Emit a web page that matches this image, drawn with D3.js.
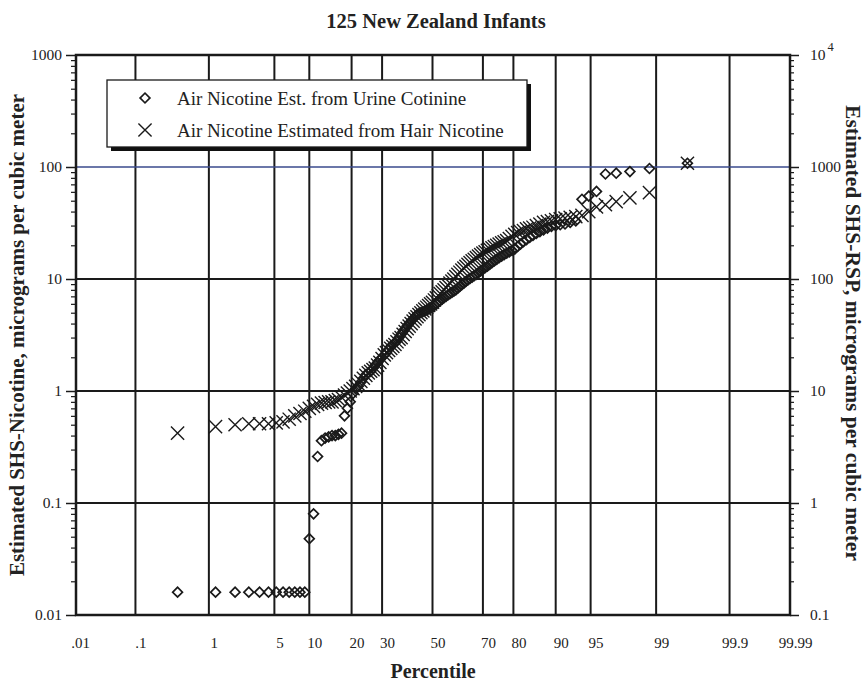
<!DOCTYPE html>
<html><head><meta charset="utf-8">
<script src="https://cdn.jsdelivr.net/npm/d3@7"></script>
<style>
html,body{margin:0;padding:0;background:#fff;}
svg{display:block;font-family:"Liberation Serif","Times New Roman",serif;}
</style></head>
<body><svg id="chart" width="868" height="684"></svg>
<script>
// ---------- data ----------
const title = "125 New Zealand Infants";
const xTitle = "Percentile";
const yLeftTitle = "Estimated SHS-Nicotine, micrograms per cubic meter";
const yRightTitle = "Estimated SHS-RSP, micrograms per cubic meter";
const legendLabels = ["Air Nicotine Est. from Urine Cotinine", "Air Nicotine Estimated from Hair Nicotine"];

const percentTicks = [0.01, 0.1, 1, 5, 10, 20, 30, 50, 70, 80, 90, 95, 99, 99.9, 99.99];
const percentLabels = [".01", ".1", "1", "5", "10", "20", "30", "50", "70", "80", "90", "95", "99", "99.9", "99.99"];
const leftTicks = [0.01, 0.1, 1, 10, 100, 1000];
const leftLabels = ["0.01", "0.1", "1", "10", "100", "1000"];
const rightTicks = [0.1, 1, 10, 100, 1000, 10000];
const rightLabels = ["0.1", "1", "10", "100", "1000", "10"];

// sorted values, one per infant (rank order)
const urineCotinine = [
  0.016,0.016,0.016,0.016,0.016,0.016,0.016,0.016,0.016,0.016,0.016,0.016,
  0.048,0.080,0.26,0.36,0.38,0.39,0.40,0.40,0.41,0.42,0.60,0.70,0.80,
  0.95,1.05,1.1,1.2,1.3,1.4,1.45,1.5,1.6,1.7,1.8,1.9,2.0,2.1,2.2,
  2.35,2.5,2.6,2.7,2.8,3.0,3.2,3.4,3.6,3.8,4.0,4.2,4.4,4.6,4.8,
  4.9,5.0,5.1,5.2,5.3,5.4,5.5,5.6,5.8,6.0,6.2,6.4,6.6,6.8,7.0,
  7.2,7.4,7.6,7.8,8.0,8.3,8.6,8.9,9.2,9.5,9.8,10.1,10.4,10.7,11.0,
  11.4,11.8,12.2,12.6,13.0,13.5,14.0,14.5,15.0,15.5,16.0,16.5,17.0,17.5,18.0,
  18.5,19.5,20.5,21.5,22.5,23.5,24.5,25.5,26.5,27.5,28.5,29.5,30,30.5,31,
  32,33,51.5,55,60.5,86.6,88,91,97,108
];
const hairNicotine = [
  0.42,0.48,0.50,0.51,0.51,0.51,0.52,0.53,0.56,0.60,0.63,0.66,0.70,0.73,0.76,
  0.78,0.79,0.80,0.80,0.82,0.84,0.88,0.92,0.96,1.0,
  1.05,1.1,1.15,1.22,1.3,1.38,1.45,1.5,1.55,1.6,1.7,1.8,1.95,2.1,2.2,
  2.3,2.4,2.5,2.6,2.75,2.9,3.0,3.2,3.4,3.6,3.8,4.0,4.2,4.4,4.6,
  4.8,5.0,5.2,5.4,5.6,5.8,6.0,6.2,6.5,6.8,7.1,7.4,7.7,8.0,8.4,
  8.8,9.2,9.6,10.0,10.5,11.0,11.5,12.0,12.5,13.0,13.5,14.0,14.5,15.0,15.5,
  16.0,16.5,17.0,17.5,18.0,18.5,19.0,19.5,20,20.5,21,21.5,22,23,24,
  25,26,26.5,27,28,28.5,29,30,31,32,32.5,33,34,34.5,35,
  35.5,36,37,40,44,46,49,53,59,108
];

// ---------- helpers ----------
function probit(p){
  const a=[-3.969683028665376e+01,2.209460984245205e+02,-2.759285104469687e+02,1.383577518672690e+02,-3.066479806614716e+01,2.506628277459239e+00];
  const b=[-5.447609879822406e+01,1.615858368580409e+02,-1.556989798598866e+02,6.680131188771972e+01,-1.328068155288572e+01];
  const c=[-7.784894002430293e-03,-3.223964580411365e-01,-2.400758277161838e+00,-2.549732539343734e+00,4.374664141464968e+00,2.938163982698783e+00];
  const d=[7.784695709041462e-03,3.224671290700398e-01,2.445134137142996e+00,3.754408661907416e+00];
  const pl=0.02425, ph=1-pl;
  let q,r;
  if(p<pl){q=Math.sqrt(-2*Math.log(p));return (((((c[0]*q+c[1])*q+c[2])*q+c[3])*q+c[4])*q+c[5])/((((d[0]*q+d[1])*q+d[2])*q+d[3])*q+1);}
  if(p<=ph){q=p-0.5;r=q*q;return (((((a[0]*r+a[1])*r+a[2])*r+a[3])*r+a[4])*r+a[5])*q/(((((b[0]*r+b[1])*r+b[2])*r+b[3])*r+b[4])*r+1);}
  q=Math.sqrt(-2*Math.log(1-p));
  return -(((((c[0]*q+c[1])*q+c[2])*q+c[3])*q+c[4])*q+c[5])/((((d[0]*q+d[1])*q+d[2])*q+d[3])*q+1);
}

// ---------- layout ----------
const L=76, R=790, T=55, B=615;
const svg=d3.select("#chart");

const xz = d3.scaleLinear().domain([probit(0.0001), probit(0.9999)]).range([L-1, R]);
const y = d3.scaleLog().domain([0.01, 1000]).range([B, T]);
const yR = d3.scaleLog().domain([0.1, 10000]).range([B, T]);

const n = urineCotinine.length;
const zOfRank = i => probit((i + 0.5) / n);

// vertical grid
const inner = percentTicks.slice(1, -1);
svg.append("g").selectAll("line").data(inner).join("line")
  .attr("x1", d=>xz(probit(d/100))).attr("x2", d=>xz(probit(d/100)))
  .attr("y1", T).attr("y2", B)
  .attr("stroke", "#1a1a1a").attr("stroke-width", 2);

// horizontal grid
svg.append("g").selectAll("line").data([0.1, 1, 10, 100]).join("line")
  .attr("x1", L).attr("x2", R).attr("y1", d=>y(d)).attr("y2", d=>y(d))
  .attr("stroke", d=> d===100 ? "#3a4a8c" : "#1a1a1a")
  .attr("stroke-width", d=> d===100 ? 1.5 : 2);

// frame
svg.append("rect").attr("x", L).attr("y", T).attr("width", R-L).attr("height", B-T)
  .attr("fill", "none").attr("stroke", "#1a1a1a").attr("stroke-width", 2.5);

// left axis with minor ticks
const minorL = [];
for (let e=-2; e<3; e++) for (let m=2; m<10; m++) minorL.push(m*Math.pow(10,e));
svg.append("g").attr("transform", `translate(${L},0)`)
  .call(d3.axisLeft(y).tickValues(minorL).tickSize(5).tickFormat(""))
  .call(g=>g.select(".domain").remove())
  .call(g=>g.selectAll("line").attr("stroke","#1a1a1a").attr("stroke-width",1.2));
svg.append("g").attr("transform", `translate(${L},0)`)
  .call(d3.axisLeft(y).tickValues(leftTicks).tickSize(10).tickPadding(4)
    .tickFormat((d,i)=>leftLabels[i]))
  .call(g=>g.select(".domain").remove())
  .call(g=>g.selectAll("line").attr("stroke","#1a1a1a").attr("stroke-width",1.5))
  .call(g=>g.selectAll("text").attr("font-size", 15.5).attr("fill","#222")
     .attr("font-family",'"Liberation Serif",serif'));

// right axis
const minorR = minorL.map(v=>v*10);
svg.append("g").attr("transform", `translate(${R},0)`)
  .call(d3.axisRight(yR).tickValues(minorR).tickSize(4).tickFormat(""))
  .call(g=>g.select(".domain").remove())
  .call(g=>g.selectAll("line").attr("stroke","#1a1a1a").attr("stroke-width",1.2));
const rAx = svg.append("g").attr("transform", `translate(${R},0)`)
  .call(d3.axisRight(yR).tickValues(rightTicks).tickSize(9).tickPadding(11)
    .tickFormat((d,i)=>rightLabels[i]))
  .call(g=>g.select(".domain").remove())
  .call(g=>g.selectAll("line").attr("stroke","#1a1a1a").attr("stroke-width",1.5))
  .call(g=>g.selectAll("text").attr("font-size", 15.5).attr("fill","#222")
     .attr("font-family",'"Liberation Serif",serif'));
rAx.selectAll("text").filter(d=>d===10000).append("tspan")
  .attr("dy","-0.75em").attr("dx","2").attr("font-size", 12.5).text("4");

// bottom axis labels
svg.append("g").attr("transform", `translate(0,${B})`)
  .call(d3.axisBottom(xz).tickValues(percentTicks.map(p=>probit(p/100))).tickSize(0).tickPadding(22)
    .tickFormat((d,i)=>percentLabels[i]))
  .call(g=>g.select(".domain").remove())
  .call(g=>g.selectAll("text").attr("font-size", 15).attr("fill","#222").attr("dx", 5)
     .attr("font-family",'"Liberation Serif",serif'));

// points
const gp = svg.append("g");
const diaSym = d3.symbol().type(d3.symbolSquare).size(48);
const crossSym = d3.symbol().type(d3.symbolPlus || d3.symbolCross).size(115);
gp.selectAll("path.dia").data(urineCotinine).join("path").attr("class","dia")
  .attr("d", diaSym)
  .attr("transform", (d,i)=>`translate(${xz(zOfRank(i))},${y(d)}) rotate(45)`)
  .attr("fill","none").attr("stroke","#1a1a1a").attr("stroke-width",1.7);
gp.selectAll("path.cross").data(hairNicotine).join("path").attr("class","cross")
  .attr("transform", (d,i)=>`translate(${xz(zOfRank(i))},${y(d)}) rotate(45)`)
  .attr("d", crossSym)
  .attr("fill","none").attr("stroke","#1a1a1a").attr("stroke-width",1.4);

// legend
const lg = svg.append("g");
lg.append("rect").attr("x",111).attr("y",84).attr("width",420).attr("height",67).attr("fill","#111");
lg.append("rect").attr("x",107).attr("y",80).attr("width",420).attr("height",67)
  .attr("fill","#fff").attr("stroke","#1a1a1a").attr("stroke-width",1.3);
lg.append("path").attr("d", diaSym)
  .attr("transform","translate(145,98) rotate(45)")
  .attr("fill","none").attr("stroke","#1a1a1a").attr("stroke-width",1.7);
lg.append("path").attr("d", crossSym)
  .attr("transform","translate(145,130) rotate(45)")
  .attr("fill","none").attr("stroke","#1a1a1a").attr("stroke-width",1.4);
lg.selectAll("text").data(legendLabels).join("text")
  .attr("x",177).attr("y",(d,i)=>98+i*32).attr("dy","0.35em")
  .attr("font-size",19).attr("fill","#222").text(d=>d);

// titles
svg.append("text").attr("x",436).attr("y",28).attr("text-anchor","middle")
  .attr("font-size",20.5).attr("font-weight","bold").attr("fill","#222").text(title);
svg.append("text").attr("x",433).attr("y",678).attr("text-anchor","middle")
  .attr("font-size",20).attr("font-weight","bold").attr("fill","#222").text(xTitle);
svg.append("text").attr("transform","translate(24,335) rotate(-90)").attr("text-anchor","middle")
  .attr("font-size",21).attr("font-weight","bold").attr("fill","#222").text(yLeftTitle);
svg.append("text").attr("transform","translate(846,333) rotate(90)").attr("text-anchor","middle")
  .attr("font-size",21.5).attr("font-weight","bold").attr("fill","#222").text(yRightTitle);
</script></body></html>
